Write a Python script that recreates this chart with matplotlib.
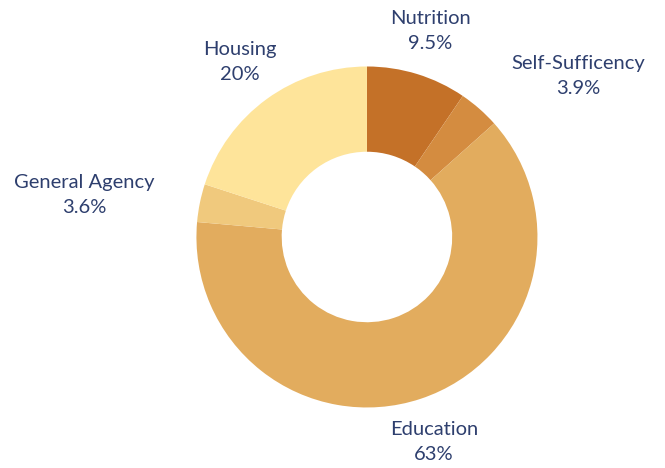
import matplotlib.pyplot as plt

# budget share by category (clockwise from 12 o'clock)
categories = ['Nutrition', 'Self-Sufficency', 'Education', 'General Agency', 'Housing']
shares = [9.5, 3.9, 63, 3.6, 20]
colors = ['#c47128', '#d48c40', '#e2ac5e', '#f0c97d', '#fee49a']

# label anchors (data units, pie radius = 1)
label_pos = [(0.37, 1.208), (1.238, 0.944), (0.393, -1.202), (-1.66, 0.246), (-0.745, 1.026)]

plt.rcParams['font.family'] = ['Lato', 'DejaVu Sans']
text_color = '#2e3f6e'

fig = plt.figure(figsize=(6.65, 4.68), dpi=100)
ax = fig.add_axes([0, 0, 1, 1])

ax.pie(shares, colors=colors, startangle=90, counterclock=False,
       radius=1, wedgeprops=dict(width=0.5, linewidth=0))

for name, val, (x, y) in zip(categories, shares, label_pos):
    ax.text(x, y, '{}\n{:g}%'.format(name, val), ha='center', va='center',
            color=text_color, fontsize=14.5, linespacing=1.55)

ax.set_xlim(-2.152, 1.748)
ax.set_ylim(-1.355, 1.390)
ax.set_aspect('auto')
ax.axis('off')

fig.savefig('out.png', dpi=100)
